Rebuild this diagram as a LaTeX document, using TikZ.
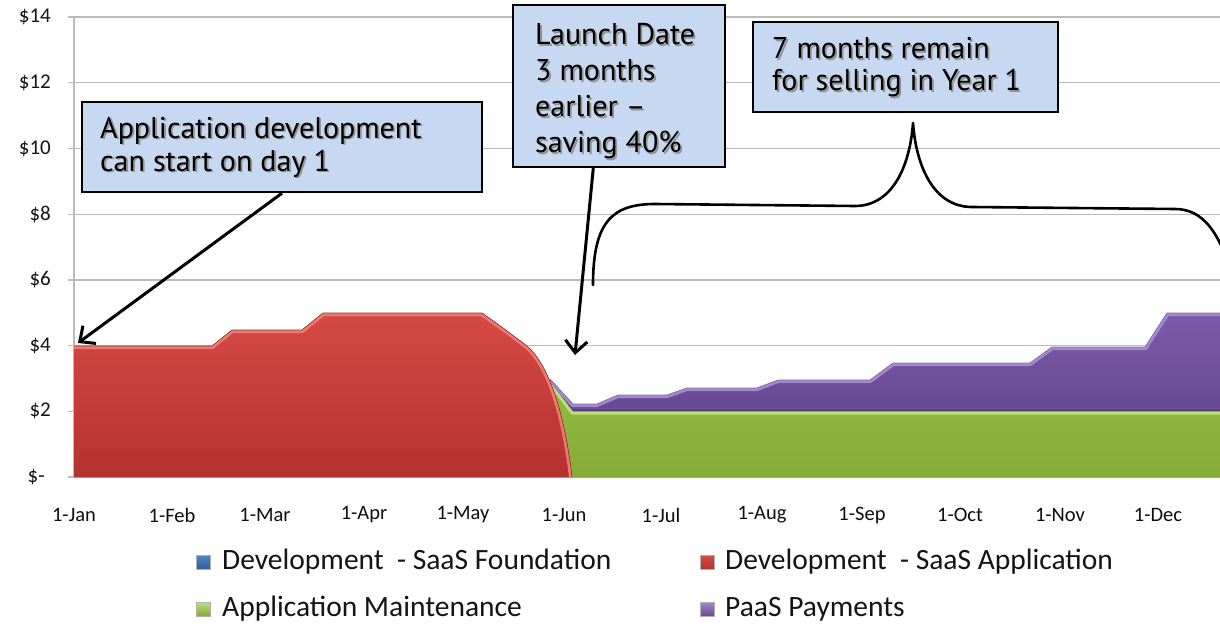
\documentclass[tikz,border=0pt]{standalone}
\usepackage{fontspec}
\newfontfamily\callfont{PT Sans}
\newfontfamily\chartfont{Carlito}
\usetikzlibrary{arrows.meta,calc}
\definecolor{boxblue}{HTML}{C6D9F1}
\definecolor{gridgray}{HTML}{BBBBBB}
\definecolor{redA}{HTML}{D64A44}
\definecolor{redB}{HTML}{B3322F}
\definecolor{redlt}{HTML}{EC7A72}
\definecolor{reddk}{HTML}{9A2E2A}
\definecolor{grnA}{HTML}{93BA45}
\definecolor{grnB}{HTML}{86AC38}
\definecolor{grnlt}{HTML}{BCE07A}
\definecolor{grndk}{HTML}{6E8F2C}
\definecolor{purA}{HTML}{7D5BAB}
\definecolor{purB}{HTML}{684892}
\definecolor{purlt}{HTML}{A488CF}
\definecolor{purdk}{HTML}{4F3772}
\definecolor{bluA}{HTML}{4F86C6}
\definecolor{bluB}{HTML}{2F5E9E}
\newcommand\shd[1]{\makebox[0pt][l]{\hspace{1.8pt}\raisebox{-1.8pt}{\textcolor{black!42}{#1}}}#1}
\begin{document}
\begin{tikzpicture}[x=1pt,y=-1pt,
  grid/.style={draw=gridgray,line width=1.2pt},
  ylab/.style={anchor=east,inner sep=0pt,text=black!92,font=\chartfont\fontsize{21}{24}\selectfont},
  xlab/.style={anchor=center,inner sep=0pt,text=black!95,font=\chartfont\fontsize{20.5}{24}\selectfont},
  legtext/.style={anchor=west,inner sep=0pt,text=black!92,font=\chartfont\fontsize{29.5}{34}\selectfont},
  legmark/.style={minimum size=14pt,inner sep=0pt,draw=black!30,line width=0.4pt},
  callout/.style={draw=black,line width=2.3pt,fill=boxblue,align=left,inner sep=0pt,anchor=center,
    font=\callfont\fontsize{30}{34}\selectfont},
  callouttext/.style={align=left,inner sep=0pt,anchor=west},
  arr/.style={line width=3pt,-{Straight Barb[length=12pt,width=22pt]}},
  bracestroke/.style={line width=2.6pt,line cap=round,line join=round}]
\useasboundingbox (0,0) rectangle (1220,634);
\fill[white] (0,0) rectangle (1220,634);

% gridlines and axis
\foreach \v in {0,...,7}{
  \draw[grid] (68,{477-65.7*\v}) -- (1220,{477-65.7*\v});
}
\draw[grid] (74,17) -- (74,477);
\foreach \v/\t in {1/\$2,2/\$4,3/\$6,4/\$8,5/\$10,6/\$12,7/\$14}{
  \node[ylab] (ylab\v) at (51,{477-65.7*\v}) {\t};
}
\node[ylab] (ylab0) at (45,477) {\$-};
\foreach \x/\m [count=\i] in {74/Jan,172/Feb,265/Mar,364/Apr,463/May,564/Jun,661/Jul,762/Aug,862/Sep,960/Oct,1060/Nov,1158/Dec}{
  \node[xlab] (xlab\i) at (\x,515) {1-\m};
}

% areas
\def\greentop{(550,380) -- (573,411) -- (1222,411)}
\def\purptop{(550,379) -- (573,404) -- (597,404) -- (618,395) -- (667,395) -- (687,388) -- (757,388) -- (778,380) -- (870,380) -- (893,363) -- (1030,363) -- (1052,347) -- (1145,347) -- (1167,313) -- (1222,313)}
\def\redtop{(74,346) -- (212,346) -- (232,330) -- (302,330) -- (323,313) -- (482,313) -- (503,328) -- (527,346) .. controls (548,364) and (564,410) .. (572,477)}

\fill[top color=grnA,bottom color=grnB] \greentop -- (1222,477) -- (572,477) -- cycle;
\begin{scope}
  \clip \greentop -- (1222,477) -- (572,477) -- cycle;
  \draw[grnlt,line width=7pt] \greentop;
\end{scope}

\fill[top color=purA,bottom color=purB] \purptop -- (1222,411) -- (573,411) -- (552,384) -- cycle;
\begin{scope}
  \clip \purptop -- (1222,411) -- (573,411) -- (552,384) -- cycle;
  \draw[purlt,line width=6pt] \purptop;
  \draw[purdk,line width=2pt] (573,411) -- (1222,411);
\end{scope}
\draw[purdk!70,line width=0.6pt] \purptop;

\fill[top color=redA,bottom color=redB] \redtop -- (74,477) -- cycle;
\begin{scope}
  \clip \redtop -- (74,477) -- cycle;
  \draw[redlt,line width=6pt] \redtop;
\end{scope}
\draw[reddk,line width=0.6pt] \redtop;

% brace
\draw[bracestroke] (593,285) .. controls (593,222) and (612,204) .. (655,204) -- (855,206)
  .. controls (893,206) and (910,165) .. (913,123)
  .. controls (916,165) and (933,207) .. (972,207) -- (1175,209)
  .. controls (1200,209) and (1214,228) .. (1224,252);

% callouts
\node[callout,minimum width=400pt,minimum height=90pt] (b1) at (282,147) {};
\node[callouttext,font=\callfont\fontsize{30}{33}\selectfont] (b1t) at (100,148)
  {\shd{Application development}\\\shd{can start on day 1}};
\node[callout,minimum width=212pt,minimum height=162pt] (b2) at (619,86) {};
\node[callouttext,font=\callfont\fontsize{30}{36}\selectfont] (b2t) at (535,92)
  {\shd{Launch Date}\\\shd{3 months}\\\shd{earlier –}\\\shd{saving 40\%}};
\node[callout,minimum width=305pt,minimum height=90pt] (b3) at (905.5,67) {};
\node[callouttext,font=\callfont\fontsize{30}{32}\selectfont] (b3t) at (772,68)
  {\shd{7 months remain}\\\shd{for selling in Year 1}};

% arrows
\coordinate (t1) at (78,343);
\coordinate (t2) at (575,355);
\draw[arr] (b1.south) -- (t1);
\draw[arr] ($(b2.south west)!0.38!(b2.south east)$) -- (t2);

% legend
\node[legmark,top color=bluA,bottom color=bluB] (m1) at (203,562) {};
\node[legtext] (l1) at (222,562) {Development\ \ - SaaS Foundation};
\node[legmark,top color=redA,bottom color=redB] (m2) at (707,562) {};
\node[legtext] (l2) at (725,562) {Development\ \ - SaaS Application};
\node[legmark,top color=grnlt,bottom color=grnB] (m3) at (203,609) {};
\node[legtext] (l3) at (222,609) {Application Maintenance};
\node[legmark,top color=purlt,bottom color=purB] (m4) at (707,609) {};
\node[legtext] (l4) at (725,609) {PaaS Payments};
\end{tikzpicture}
\end{document}
